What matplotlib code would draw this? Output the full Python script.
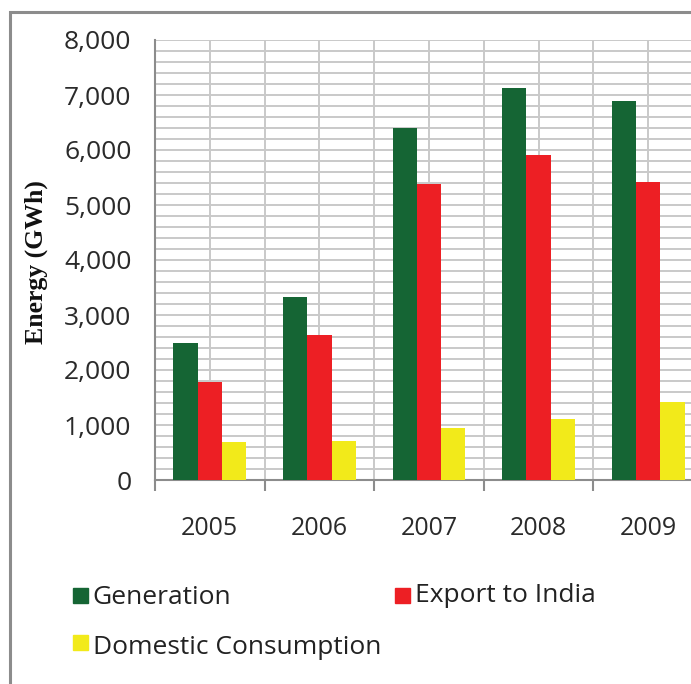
import matplotlib
matplotlib.use("Agg")
import matplotlib.pyplot as plt
import matplotlib.patches as patches
import numpy as np

# data
years = ["2005", "2006", "2007", "2008", "2009"]
generation = [2485, 3320, 6395, 7125, 6895]
export_india = [1780, 2640, 5390, 5915, 5425]
domestic = [690, 710, 945, 1110, 1420]

series_names = ["Generation", "Export to India", "Domestic Consumption"]
colors = ["#156534", "#ED1F24", "#F2EA1A"]

fig = plt.figure(figsize=(6.91, 6.84), dpi=100)

# frame around the whole chart (open on right/bottom, like the crop)
fig.patches.append(patches.Rectangle((10 / 691, -0.1), 2.0, 1 - 12 / 684 + 0.1,
                                     transform=fig.transFigure, fill=False,
                                     edgecolor="#8c8c8c", linewidth=2.2, zorder=0))

ax = fig.add_axes([155 / 691, 1 - 480 / 684, 548 / 691, 440 / 684])

x = np.arange(len(years)) + 0.5
w = 0.222
for i, (vals, c) in enumerate(zip([generation, export_india, domestic], colors)):
    ax.bar(x + (i - 1) * w, vals, w, color=c, edgecolor="none", zorder=3)

ax.set_xlim(0, 5)
ax.set_ylim(0, 8000)

ax.set_yticks(np.arange(0, 8001, 1000))
ax.set_yticks(np.arange(0, 8001, 200), minor=True)
ax.set_yticklabels(["{:,}".format(v) for v in range(0, 8001, 1000)],
                   fontsize=19, fontfamily="Open Sans", color="#2a2a2a")
ax.tick_params(axis="y", which="both", length=0, pad=17)

ax.set_xticks(np.arange(0, 6))
ax.set_xticklabels([])
ax.set_xticks(x, minor=True)
ax.set_xticklabels(years, minor=True, fontsize=18, fontfamily="Open Sans",
                   color="#2a2a2a")
ax.tick_params(axis="x", which="major", length=8, width=1.5, color="#8c8c8c",
               direction="out")
ax.tick_params(axis="x", which="minor", length=0, pad=26)

ax.grid(True, which="both", color="#c9c9c9", linewidth=1.4, zorder=0)
ax.set_axisbelow(True)

for s in ["top", "right"]:
    ax.spines[s].set_visible(False)
for s in ["left", "bottom"]:
    ax.spines[s].set_color("#8c8c8c")
    ax.spines[s].set_linewidth(1.5)

fig.text(36 / 691, 1 - 262 / 684, "Energy (GWh)", rotation=90, ha="center",
         va="center", fontsize=18.5, fontweight="bold",
         fontfamily="Liberation Serif", color="#111111")

# legend drawn by hand to match the ragged layout: (square left, square top, text left, text centre)
leg_pos = [(73, 588, 92, 598), (395, 588, 415, 596), (73, 635, 93, 647)]
for name, c, (sx, sy, tx, ty) in zip(series_names, colors, leg_pos):
    fig.patches.append(patches.Rectangle((sx / 691, 1 - (sy + 15) / 684), 15 / 691, 15 / 684,
                                         transform=fig.transFigure, color=c))
    fig.text(tx / 691, 1 - ty / 684, name, ha="left", va="center",
             fontsize=19, fontfamily="Open Sans", color="#222222")

fig.savefig("out.png", dpi=100)
